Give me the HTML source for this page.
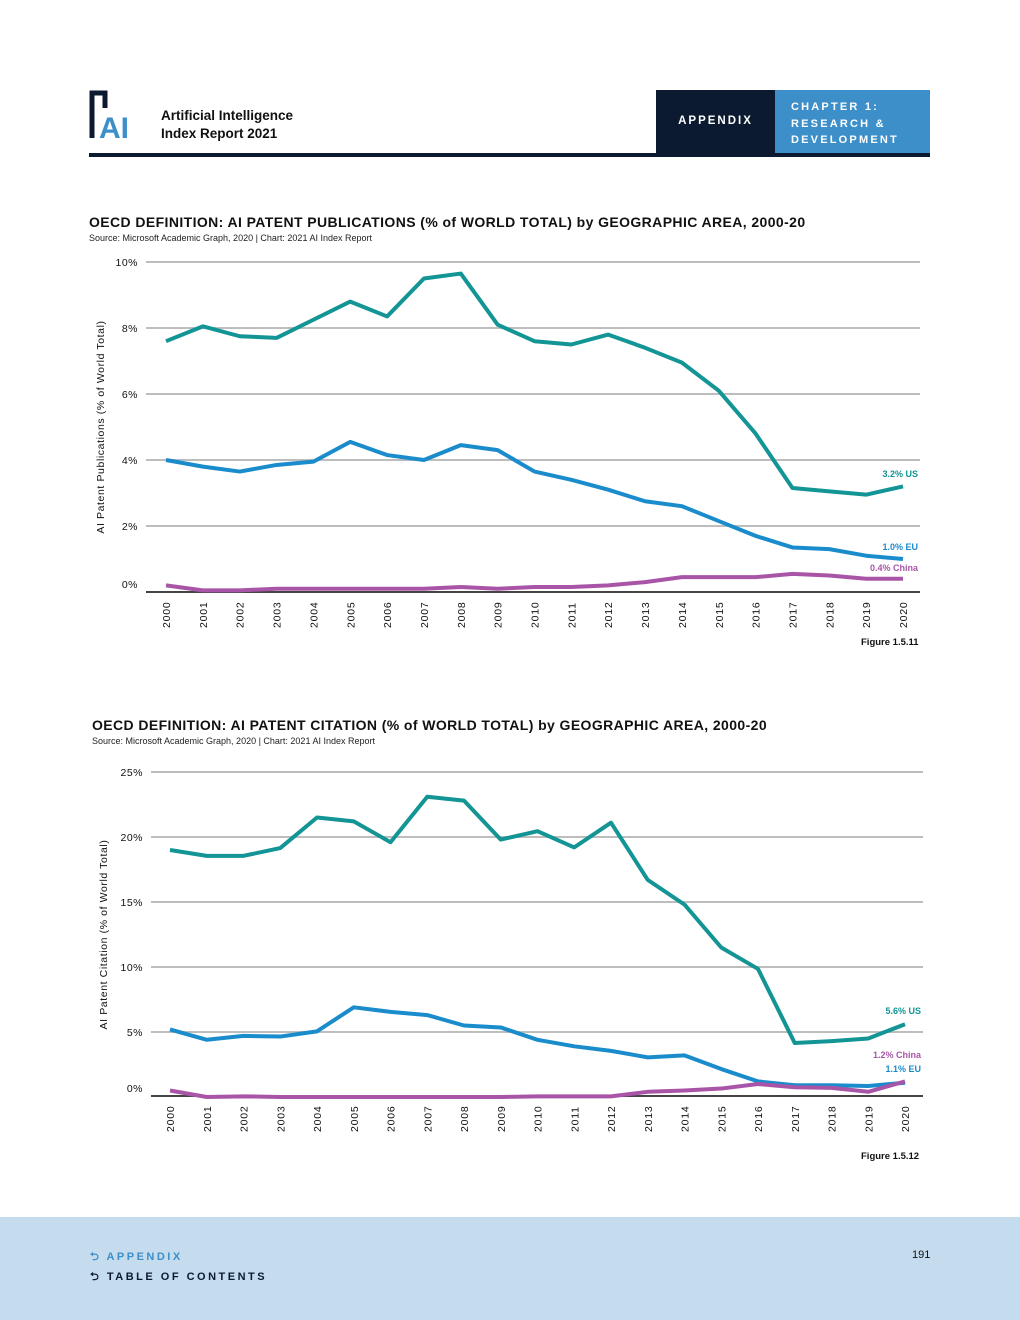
<!DOCTYPE html>
<html><head><meta charset="utf-8"><style>
body{margin:0;width:1020px;height:1320px;background:#fff;position:relative;font-family:"Liberation Sans",sans-serif;overflow:hidden}
.abs{position:absolute}
</style></head><body>
<div class="abs" style="left:89px;top:90px;width:58px;height:50px">
<svg width="58" height="50"><path d="M3 48 V3 H16 V18" stroke="#0b1a30" stroke-width="5" fill="none"/><text x="10" y="48" font-size="30" font-weight="bold" fill="#3d8fca" font-family="Liberation Sans">AI</text></svg></div>
<div class="abs" style="left:161px;top:107px;font-size:13.5px;font-weight:bold;color:#111;line-height:18px">Artificial Intelligence<br>Index Report 2021</div>
<div class="abs" style="left:656px;top:90px;width:119px;height:63px;background:#0b1a30;color:#fff;font-size:11.5px;font-weight:bold;letter-spacing:2px;line-height:63px;text-align:center">APPENDIX</div>
<div class="abs" style="left:775px;top:90px;width:155px;height:63px;background:#3d8fca;color:#fff;font-size:11px;font-weight:bold;letter-spacing:2.2px;line-height:16.5px;padding:9px 0 0 16px;box-sizing:border-box">CHAPTER 1:<br>RESEARCH &amp;<br>DEVELOPMENT</div>
<div class="abs" style="left:89px;top:153px;width:841px;height:4px;background:#0b1a30"></div>

<div class="abs" style="left:89px;top:214px;font-size:14px;letter-spacing:0.4px;font-weight:bold;color:#111">OECD DEFINITION: AI PATENT PUBLICATIONS (% of WORLD TOTAL) by GEOGRAPHIC AREA, 2000-20</div>
<div class="abs" style="left:89px;top:233px;font-size:9px;color:#222">Source: Microsoft Academic Graph, 2020 | Chart: 2021 AI Index Report</div>
<div class="abs" style="left:861px;top:637px;font-size:9.5px;color:#111;font-weight:bold">Figure 1.5.11</div>

<div class="abs" style="left:92px;top:717px;font-size:14px;letter-spacing:0.4px;font-weight:bold;color:#111">OECD DEFINITION: AI PATENT CITATION (% of WORLD TOTAL) by GEOGRAPHIC AREA, 2000-20</div>
<div class="abs" style="left:92px;top:736px;font-size:9px;color:#222">Source: Microsoft Academic Graph, 2020 | Chart: 2021 AI Index Report</div>
<div class="abs" style="left:861px;top:1151px;font-size:9.5px;color:#111;font-weight:bold">Figure 1.5.12</div>

<svg class="abs" id="c" style="left:0;top:0" width="1020" height="1320"></svg>

<div class="abs" style="left:0;top:1217px;width:1020px;height:103px;background:#c5dcee"></div>
<div class="abs" style="left:90px;top:1248px;font-size:11px;font-weight:bold;letter-spacing:2.5px;color:#3d8fca">⮌ APPENDIX</div>
<div class="abs" style="left:90px;top:1268px;font-size:11px;font-weight:bold;letter-spacing:2.5px;color:#0b1a30">⮌ TABLE OF CONTENTS</div>
<div class="abs" style="left:912px;top:1249px;font-size:11px;color:#111">191</div>

<script>
const years=["2000","2001","2002","2003","2004","2005","2006","2007","2008","2009","2010","2011","2012","2013","2014","2015","2016","2017","2018","2019","2020"];
const pubUS=[7.6,8.05,7.75,7.7,8.25,8.8,8.35,9.5,9.65,8.1,7.6,7.5,7.8,7.4,6.95,6.1,4.8,3.15,3.05,2.95,3.2];
const pubEU=[4.0,3.8,3.65,3.85,3.95,4.55,4.15,4.0,4.45,4.3,3.65,3.4,3.1,2.75,2.6,2.15,1.7,1.35,1.3,1.1,1.0];
const pubCN=[0.2,0.05,0.05,0.1,0.1,0.1,0.1,0.1,0.15,0.1,0.15,0.15,0.2,0.3,0.45,0.45,0.45,0.55,0.5,0.4,0.4];
const pubTicks=[0,2,4,6,8,10];
const citUS=[19.0,18.55,18.55,19.15,21.5,21.2,19.6,23.1,22.8,19.8,20.45,19.2,21.1,16.7,14.8,11.5,9.85,4.15,4.3,4.5,5.6];
const citEU=[5.2,4.4,4.7,4.65,5.05,6.9,6.55,6.3,5.5,5.35,4.4,3.9,3.55,3.05,3.2,2.15,1.2,0.9,0.9,0.85,1.1];
const citCN=[0.5,0,0.05,0,0,0,0,0,0,0,0.05,0.05,0.05,0.4,0.5,0.65,1.0,0.75,0.7,0.4,1.2];
const citTicks=[0,5,10,15,20,25];
const NS="http://www.w3.org/2000/svg",svg=document.getElementById('c');
function mk(t,a,p){const e=document.createElementNS(NS,t);for(const k in a)e.setAttribute(k,a[k]);(p||svg).appendChild(e);return e;}
function chart(o){
 const x=i=>o.x0+(o.x1-o.x0)*i/(years.length-1);
 const y=v=>o.zero-v*o.ppu;
 const g=mk('g',{});
 
 
 o.ticks.forEach(t=>{
  if(t>0){const l=mk('line',{x1:o.l,x2:o.r,y1:y(t),y2:y(t),stroke:'#bdbdbd','stroke-width':2},g);
  }
  const tx=mk('text',{x:o.l-8,y:(t===0?o.axisY-4:y(t)+4),'text-anchor':'end','font-size':10.5,fill:'#111','letter-spacing':'0.5'},g);tx.textContent=t+'%';
  
 });
 const ax=mk('line',{x1:o.l,x2:o.r,y1:o.axisY,y2:o.axisY,stroke:'#444','stroke-width':2},g);
 
 years.forEach((yr,i)=>{const t=mk('text',{transform:`translate(${x(i)+4},${o.axisY+36}) rotate(-90)`,'font-size':10.5,fill:'#111','letter-spacing':'0.8'},g);t.textContent=yr;
  });
 const yt=mk('text',{transform:`translate(${o.ytx},${(o.zero+y(o.ticks[o.ticks.length-1]))/2}) rotate(-90)`,'text-anchor':'middle','font-size':10.5,fill:'#111','letter-spacing':'0.6'},g);
 yt.textContent=o.ytitle;
 o.series.forEach(s=>{
  const p=mk('polyline',{points:s.d.map((v,i)=>x(i)+','+y(v)).join(' '),fill:'none',stroke:s.c,'stroke-width':4,'stroke-linejoin':'round'},g);
  
  const lb=mk('text',{x:o.r-2,y:s.ly,'text-anchor':'end','font-size':9,'font-weight':'bold',fill:s.c},g);lb.textContent=s.lab;
  
 });
}
chart({id:'patent-publications-chart',x0:166,x1:903,l:146,r:920,zero:592,axisY:592,ppu:33,ticks:pubTicks,ytx:104,ytitle:'AI Patent Publications (% of World Total)',
 series:[{d:pubUS,c:'#139495',n:'us',lab:'3.2% US',ly:477},{d:pubEU,c:'#1a8ccc',n:'eu',lab:'1.0% EU',ly:550},{d:pubCN,c:'#a855a8',n:'china',lab:'0.4% China',ly:571}]});
chart({id:'patent-citation-chart',x0:170,x1:905,l:151,r:923,zero:1097,axisY:1096,ppu:13,ticks:citTicks,ytx:107,ytitle:'AI Patent Citation (% of World Total)',
 series:[{d:citUS,c:'#139495',n:'us',lab:'5.6% US',ly:1014},{d:citEU,c:'#1a8ccc',n:'eu',lab:'1.1% EU',ly:1072},{d:citCN,c:'#a855a8',n:'china',lab:'1.2% China',ly:1058}]});
</script>
</body></html>
